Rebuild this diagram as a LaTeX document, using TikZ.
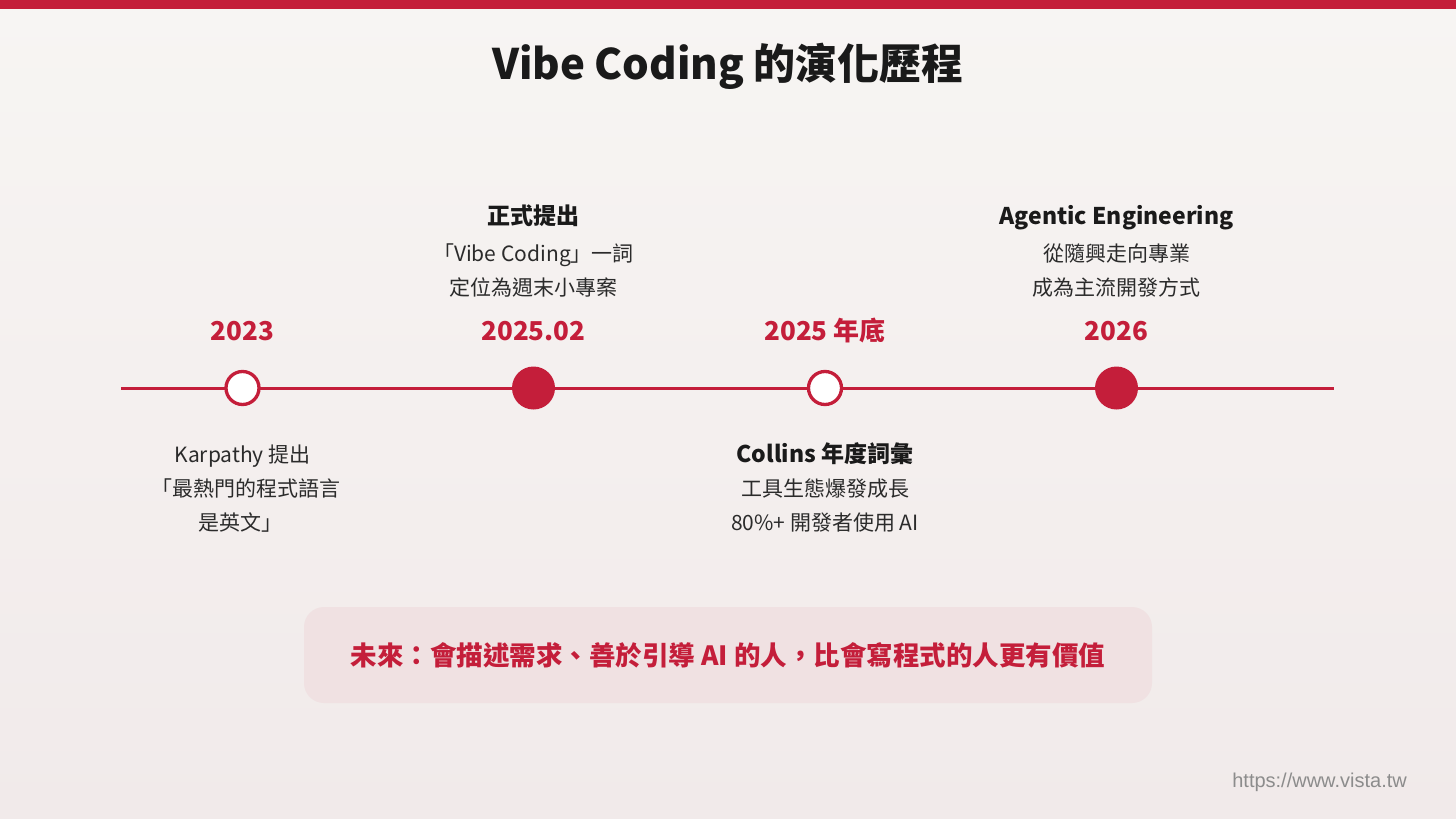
\documentclass[tikz,border=0pt]{standalone}
\usepackage{fontspec}
\setmainfont{Noto Sans CJK TC}
\newfontfamily\urlfont{Liberation Sans}
\definecolor{vred}{HTML}{C41E3A}
\definecolor{ink}{HTML}{1A1A1A}
\definecolor{bodytxt}{HTML}{2B2B2B}
\definecolor{urlgray}{HTML}{8C8C8C}
\definecolor{bgtop}{HTML}{F7F5F3}
\definecolor{bgbot}{HTML}{F1EAEA}
\definecolor{notefill}{HTML}{F0E1E2}
\tikzset{
  ttl/.style     = {anchor=base, inner sep=0pt, text=ink,
                    font=\fontsize{42}{50}\selectfont\bfseries},
  yearlbl/.style = {anchor=base, inner sep=0pt, text=vred,
                    font=\fontsize{26}{30}\selectfont\bfseries},
  evthead/.style = {anchor=base, inner sep=0pt, text=ink,
                    font=\fontsize{23}{28}\selectfont\bfseries},
  evtline/.style = {anchor=base, inner sep=0pt, text=bodytxt,
                    font=\fontsize{21}{26}\selectfont},
  hdot/.style    = {circle, draw=vred, line width=3.3pt, fill=white,
                    minimum size=33pt, inner sep=0pt},
  fdot/.style    = {circle, fill=vred, minimum size=43pt, inner sep=0pt},
  axis/.style    = {draw=vred, line width=3pt},
  notebox/.style = {rectangle, rounded corners=20pt, fill=notefill,
                    minimum width=848pt, minimum height=96pt, text=vred,
                    font=\fontsize{26.5}{30}\selectfont\bfseries},
  urltxt/.style  = {anchor=base east, inner sep=0pt, text=urlgray,
                    font=\fontsize{20}{24}\selectfont\urlfont},
}

\begin{document}
\begin{tikzpicture}[x=1pt, y=-1pt]

\useasboundingbox (0,0) rectangle (1456,819);
\shade[top color=bgtop, bottom color=bgbot] (0,0) rectangle (1456,819);
\fill[vred] (0,0) rectangle (1456,9);

\node[ttl] (title) at (728,79) {Vibe Coding 的演化歷程};

%% Timeline axis
\coordinate (axl) at (121,388);
\coordinate (axr) at (1334,388);
\draw[axis] (axl) -- (axr);

\node[hdot] (p1) at (242.5,388) {};
\node[fdot] (p2) at (533.5,388) {};
\node[hdot] (p3) at (825,388)   {};
\node[fdot] (p4) at (1116.5,388) {};

%% Years
\node[yearlbl] (y1) at (242.5,340)  {2023};
\node[yearlbl] (y2) at (533.5,340)  {2025.02};
\node[yearlbl] (y3) at (825,340)    {2025 年底};
\node[yearlbl] (y4) at (1116.5,340) {2026};

%% 2023
\node[evtline] (e1a) at (242.5,462) {Karpathy 提出};
\node[evtline] (e1b) at (246,496)   {「最熱門的程式語言};
\node[evtline] (e1c) at (240,530)   {是英文」};

%% 2025.02
\node[evthead] (h2)  at (533.5,224) {正式提出};
\node[evtline] (e2a) at (533.5,261) {「Vibe Coding」一詞};
\node[evtline] (e2b) at (533.5,295) {定位為週末小專案};

%% 2025 end
\node[evthead] (h3)  at (825,462) {Collins 年度詞彙};
\node[evtline] (e3a) at (825,496) {工具生態爆發成長};
\node[evtline] (e3b) at (825,530) {80\%+ 開發者使用 AI};

%% 2026
\node[evthead] (h4)  at (1116.5,224) {Agentic Engineering};
\node[evtline] (e4a) at (1116.5,261) {從隨興走向專業};
\node[evtline] (e4b) at (1116.5,295) {成為主流開發方式};

%% Takeaway
\node[notebox] (note) at (728,655)
  {未來：會描述需求、善於引導 AI 的人，比會寫程式的人更有價值};

\node[urltxt] (url) at (1407,787) {https://www.vista.tw};

\end{tikzpicture}
\end{document}
